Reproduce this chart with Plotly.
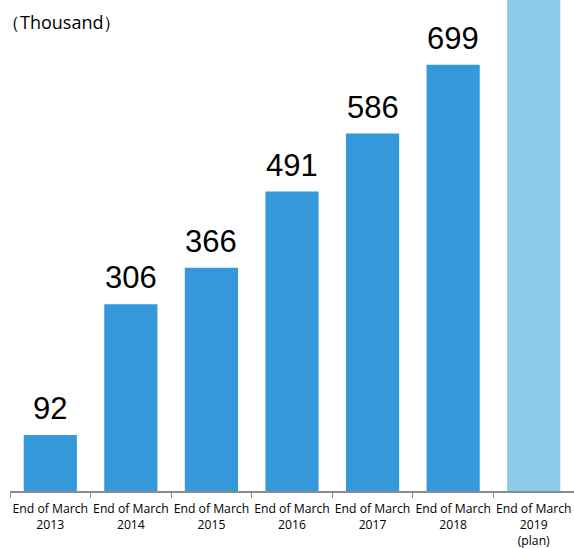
import plotly.graph_objects as go

categories = ["End of March<br>2013", "End of March<br>2014", "End of March<br>2015",
              "End of March<br>2016", "End of March<br>2017", "End of March<br>2018",
              "End of March<br>2019<br>(plan)"]
values = [92, 306, 366, 491, 586, 699, 850]
labels = ["92", "306", "366", "491", "586", "699", ""]
colors = ["#3498DB"] * 6 + ["#8DCBEB"]

fig = go.Figure()
fig.add_trace(go.Bar(x=categories, y=values, marker=dict(color=colors, line=dict(width=0)),
                     hoverinfo="skip"))

for c, v, t in zip(categories, values, labels):
    if t:
        fig.add_annotation(x=c, y=v, text=t, showarrow=False, yanchor="bottom", yshift=7,
                           font=dict(family="Liberation Sans, Arial", size=31, color="#000000"))

fig.add_annotation(xref="paper", yref="paper", x=-0.018, y=1.0, xanchor="left", yanchor="top",
                   yshift=-8, text="（Thousand）", showarrow=False,
                   font=dict(family="Open Sans, DejaVu Sans", size=18, color="#000000"))

fig.update_layout(
    width=574, height=548,
    margin=dict(l=10, r=0, t=0, b=57),
    plot_bgcolor="white", paper_bgcolor="white",
    bargap=0.34, showlegend=False,
    xaxis=dict(showline=True, linecolor="#8C8C8C", linewidth=1.5, ticks="outside",
               tickson="boundaries", ticklen=5, tickcolor="#8C8C8C", tickwidth=1,
               ticklabelstandoff=6, tickangle=0, automargin=False,
               tickfont=dict(family="Open Sans, DejaVu Sans", size=12.2, color="#000000"),
               showgrid=False, fixedrange=True),
    yaxis=dict(range=[0, 805], visible=False, showgrid=False, fixedrange=True,
               automargin=False),
)

fig.write_html("out.html")
